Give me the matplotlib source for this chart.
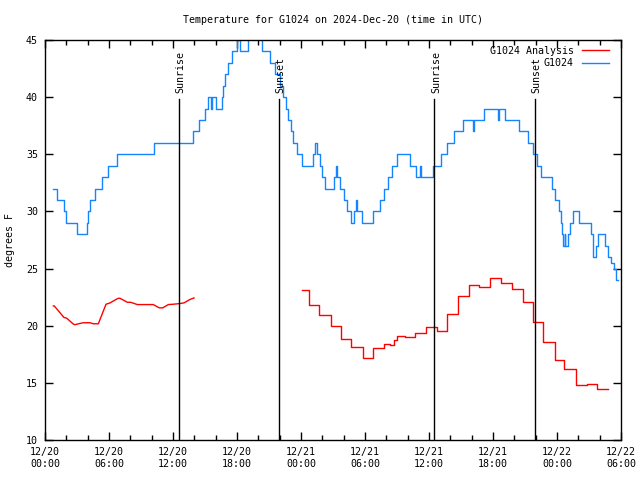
import numpy as np
import matplotlib
matplotlib.use("Agg")
import matplotlib.pyplot as plt

# hours since 2024-12-20 00:00 UTC
obs_hours = [0.78, 1.08, 1.75, 2.0, 2.97, 3.9, 4.06, 4.22, 4.66, 5.31, 5.94, 6.78,
             10.25, 13.88, 14.47, 15.0, 15.25, 15.53, 15.69, 16.0, 16.56, 16.66,
             16.88, 17.19, 17.5, 17.97, 18.28, 19.06, 20.34, 21.08, 21.6, 22.03,
             22.34, 22.59, 22.81, 23.03, 23.28, 23.66, 24.06, 25.09, 25.34, 25.5,
             25.75, 25.97, 26.25, 27.09, 27.28, 27.41, 27.62, 28.0, 28.31, 28.66,
             28.97, 29.19, 29.25, 29.72, 30.75, 31.41, 31.81, 32.19, 32.53, 32.97,
             34.25, 34.75, 35.17, 35.25, 36.34, 37.12, 37.72, 38.34, 39.16, 40.12,
             40.22, 41.19, 42.5, 42.6, 43.12, 44.47, 45.31, 45.72, 46.16, 46.5,
             47.5, 47.81, 48.21, 48.35, 48.5, 48.59, 48.72, 48.75, 49.06, 49.22,
             49.53, 50.09, 51.16, 51.34, 51.4, 51.66, 51.87, 52.53, 52.81, 53.1,
             53.34, 53.5, 53.75]
obs_temp = [32, 31, 30, 29, 28, 29, 30, 31, 32, 33, 34, 35,
            36, 37, 38, 39, 40, 39, 40, 39, 40, 41,
            42, 43, 44, 45, 44, 46, 44, 43, 42, 41,
            40, 39, 38, 37, 36, 35, 34, 35, 36, 35,
            34, 33, 32, 33, 34, 33, 32, 31, 30, 29,
            30, 31, 30, 29, 30, 31, 32, 33, 34, 35,
            34, 33, 34, 33, 34, 35, 36, 37, 38, 37,
            38, 39, 38, 39, 38, 37, 36, 35, 34, 33,
            32, 31, 30, 29, 28, 27, 28, 27, 28, 29,
            30, 29, 28, 27, 26, 27, 28, 27, 26, 25.5,
            25, 24, 24]

# analysis, first day (smooth) and second day (hourly steps)
ana_hours_a = [0.78, 0.87, 1.78, 2.03, 2.66, 2.81, 3.28, 3.59, 4.22, 4.53, 5.0,
               5.72, 6.09, 6.47, 6.87, 7.03, 7.72, 8.03, 8.66, 10.15, 10.72,
               11.03, 11.56, 12.03, 12.66, 13.03, 13.6, 13.97]
ana_temp_a = [21.73, 21.73, 20.72, 20.66, 20.14, 20.09, 20.2, 20.26, 20.26, 20.17, 20.17,
              21.88, 21.99, 22.2, 22.4, 22.4, 22.05, 22.05, 21.85, 21.85, 21.56,
              21.56, 21.85, 21.88, 21.94, 22.0, 22.3, 22.43]
ana_hours_b = [24.12, 24.78, 25.72, 26.78, 27.75, 28.69, 29.78, 30.78, 31.78, 32.3,
               32.72, 33.03, 33.75, 34.72, 35.72, 36.72, 37.72, 38.75, 39.75, 40.72,
               41.72, 42.72, 43.75, 44.78, 45.72, 46.72, 47.81, 48.69, 49.75, 50.78,
               51.78, 52.75]
ana_temp_b = [23.09, 21.82, 20.95, 19.97, 18.84, 18.15, 17.2, 18.06, 18.41, 18.32,
              18.76, 19.1, 19.02, 19.39, 19.88, 19.55, 21.04, 22.6, 23.53, 23.38,
              24.16, 23.7, 23.18, 22.05, 20.32, 18.61, 16.97, 16.24, 14.77, 14.86,
              14.42, 14.42]

sun_hours = [12.58, 21.92, 36.5, 45.9]
sun_names = ["Sunrise", "Sunset", "Sunrise", "Sunset"]

xtick_hours = [0, 6, 12, 18, 24, 30, 36, 42, 48, 54]
xtick_labels = ["12/20\n00:00", "12/20\n06:00", "12/20\n12:00", "12/20\n18:00",
                "12/21\n00:00", "12/21\n06:00", "12/21\n12:00", "12/21\n18:00",
                "12/22\n00:00", "12/22\n06:00"]

plt.rcParams['font.family'] = ['DejaVu Sans Mono']
fs = 7.2

fig = plt.figure(figsize=(6.4, 4.8), dpi=100)
ax = fig.add_axes([45/640, 40/480, 576/640, 400/480])

red = '#ff0000'
blue = '#1485ff'

ax.plot(ana_hours_a, ana_temp_a, color=red, lw=1.0, label='G1024 Analysis')
ax.plot(ana_hours_b, ana_temp_b, color=red, lw=1.0, drawstyle='steps-post')
ax.plot(obs_hours, obs_temp, color=blue, lw=1.0, drawstyle='steps-post', label='G1024')

for h, name in zip(sun_hours, sun_names):
    ax.plot([h, h], [10, 39.8], color='black', lw=1.0)
    ax.text(h + 0.15, 40.4, name, rotation=90, ha='center', va='bottom', fontsize=fs)

ax.set_xlim(0, 54)
ax.set_ylim(10, 45)
ax.set_xticks(xtick_hours)
ax.set_xticklabels(xtick_labels)
ax.set_xticks(np.arange(0, 55, 2), minor=True)
ax.set_yticks([10, 15, 20, 25, 30, 35, 40, 45])
ax.tick_params(axis='both', which='major', direction='in', length=6, width=1,
               top=True, right=True, labelsize=fs, pad=5)
ax.tick_params(axis='x', which='minor', direction='in', length=3.5, width=1, top=True)
for s in ax.spines.values():
    s.set_linewidth(1.0)

leg = ax.legend(loc='upper right', bbox_to_anchor=(1.0 - 6/576, 1.0), frameon=False,
                markerfirst=False, fontsize=fs, handlelength=2.7, handletextpad=0.8,
                labelspacing=0.25, borderaxespad=0.3, borderpad=0.3)

fig.text(333/640, 1 - 20/480, 'Temperature for G1024 on 2024-Dec-20 (time in UTC)',
         ha='center', va='center', fontsize=fs)
fig.text(10/640, 0.5, 'degrees F', rotation=90, ha='center', va='center', fontsize=fs)

fig.savefig('out.png', dpi=100)
